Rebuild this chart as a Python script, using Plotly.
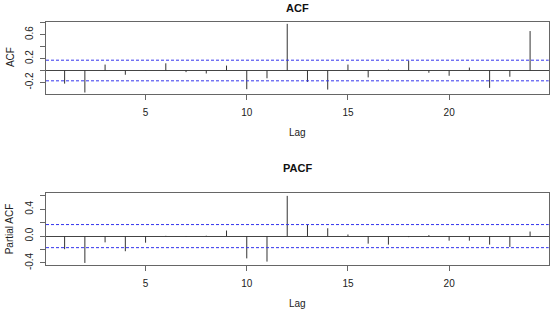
import plotly.graph_objects as go

lags = list(range(1, 25))
acf_vals = [-0.219, -0.367, 0.099, -0.071, 0.005, 0.12, -0.027, -0.05, 0.082, -0.312, -0.13, 0.778,
            -0.19, -0.318, 0.099, -0.115, 0.016, 0.164, -0.038, -0.088, 0.049, -0.29, -0.104, 0.658]
pacf_vals = [-0.195, -0.40, -0.093, -0.225, -0.098, 0.004, -0.008, 0.006, 0.083, -0.332, -0.38, 0.60,
             0.166, 0.117, 0.024, -0.112, -0.127, -0.015, 0.015, -0.068, -0.068, -0.127, -0.161, 0.068]
conf_limit = 0.172
x_ticks = [5, 10, 15, 20]
acf_yticks = [-0.4, -0.2, 0.0, 0.2, 0.4, 0.6, 0.8]
acf_yticktext = ["", "-0.2", "", "0.2", "", "0.6", ""]
pacf_yticks = [-0.4, -0.2, 0.0, 0.2, 0.4, 0.6]
pacf_yticktext = ["-0.4", "", "0.0", "", "0.4", ""]

W, H = 554, 315
FONT = "Liberation Sans, Arial, sans-serif"
TXT = "#222222"
BOX = "#666666"


def stems(vals):
    xs, ys = [], []
    for l, v in zip(lags, vals):
        xs += [l, l, None]
        ys += [0, v, None]
    return xs, ys


fig = go.Figure()
ax, ay = stems(acf_vals)
px_, py_ = stems(pacf_vals)
fig.add_trace(go.Scatter(x=ax, y=ay, mode="lines", line=dict(color="#333333", width=1),
                         xaxis="x", yaxis="y", showlegend=False, hoverinfo="skip"))
fig.add_trace(go.Scatter(x=px_, y=py_, mode="lines", line=dict(color="#333333", width=1),
                         xaxis="x2", yaxis="y2", showlegend=False, hoverinfo="skip"))

xdom = [46 / W, 548.7 / W]
acf_dom = [1 - 95.7 / H, 1 - 22.3 / H]
pacf_dom = [1 - 269.3 / H, 1 - 196.5 / H]

xcommon = dict(range=[0.08, 24.92], tickvals=x_ticks, ticks="outside", ticklen=5,
               tickcolor=BOX, showline=True, linecolor=BOX, linewidth=1, mirror=True,
               showgrid=False, zeroline=False, tickfont=dict(family=FONT, size=10, color=TXT),
               ticklabelstandoff=4)
ycommon = dict(ticks="outside", ticklen=5, tickcolor=BOX, showline=True, linecolor=BOX,
               linewidth=1, mirror=True, showgrid=False, zeroline=True, zerolinecolor="#444444",
               zerolinewidth=1, tickangle=-90, tickfont=dict(family=FONT, size=10, color=TXT),
               ticklabelstandoff=3)

shapes = []
for yref, xref in (("y", "x domain"), ("y2", "x2 domain")):
    for s in (1, -1):
        shapes.append(dict(type="line", xref=xref, yref=yref, x0=0, x1=1,
                           y0=s * conf_limit, y1=s * conf_limit,
                           line=dict(color="#3333ee", width=1, dash="3px,2px")))

annots = [
    dict(text="<b>ACF</b>", x=297 / W, y=1.0, xref="paper", yref="paper",
         xanchor="center", yanchor="top", showarrow=False,
         font=dict(family=FONT, size=11, color="#111111")),
    dict(text="<b>PACF</b>", x=297 / W, y=1 - 171 / H, xref="paper", yref="paper",
         xanchor="center", yanchor="middle", showarrow=False,
         font=dict(family=FONT, size=11, color="#111111")),
    dict(text="Lag", x=297 / W, y=1 - 135 / H, xref="paper", yref="paper",
         xanchor="center", yanchor="middle", showarrow=False,
         font=dict(family=FONT, size=10, color=TXT)),
    dict(text="Lag", x=297 / W, y=1 - 308 / H, xref="paper", yref="paper",
         xanchor="center", yanchor="middle", showarrow=False,
         font=dict(family=FONT, size=10, color=TXT)),
    dict(text="ACF", x=10 / W, y=1 - 58 / H, xref="paper", yref="paper", textangle=-90,
         xanchor="center", yanchor="middle", showarrow=False,
         font=dict(family=FONT, size=10, color=TXT)),
    dict(text="Partial ACF", x=9 / W, y=1 - 233 / H, xref="paper", yref="paper", textangle=-90,
         xanchor="center", yanchor="middle", showarrow=False,
         font=dict(family=FONT, size=10, color=TXT)),
]

fig.update_layout(
    width=W, height=H, margin=dict(l=0, r=0, t=0, b=0),
    paper_bgcolor="white", plot_bgcolor="white",
    xaxis=dict(domain=xdom, anchor="y", **xcommon),
    yaxis=dict(domain=acf_dom, anchor="x", range=[-0.395, 0.81], tickvals=acf_yticks,
               ticktext=acf_yticktext, **ycommon),
    xaxis2=dict(domain=xdom, anchor="y2", **xcommon),
    yaxis2=dict(domain=pacf_dom, anchor="x2", range=[-0.431, 0.637], tickvals=pacf_yticks,
                ticktext=pacf_yticktext, **ycommon),
    shapes=shapes, annotations=annots,
)

fig.write_html("out.html")
